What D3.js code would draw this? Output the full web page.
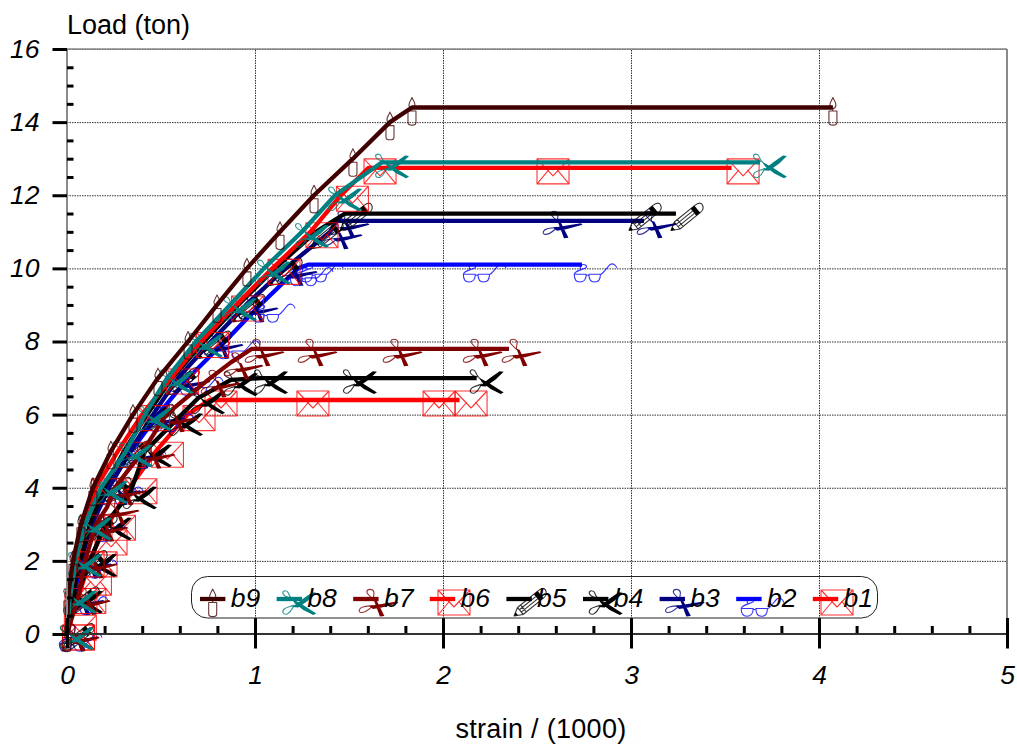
<!DOCTYPE html>
<html>
<head>
<meta charset="utf-8">
<script src="https://cdn.jsdelivr.net/npm/d3@7/dist/d3.min.js"></script>
<style>
  html, body { margin: 0; padding: 0; background: #fff; }
  svg { display: block; font-family: "Liberation Sans", Arial, sans-serif; }
  .tick-label { font-style: italic; font-size: 26.5px; fill: #000; }
  .axis-title { font-size: 27px; fill: #000; }
  .glyph { fill: none; stroke-width: 1.1; stroke-opacity: 0.8; stroke-linejoin: round; }
</style>
</head>
<body>
<div id="chart"></div>
<script>
'use strict';

// values: strain / 1000 and load in ton
var b1Strain = [0, 0.01, 0.06, 0.09, 0.12, 0.173, 0.218, 0.332, 0.473, 0.641, 0.758, 1.247, 1.918, 2.088];
var b1Load = [0, 0.27, 1, 1.5, 2, 2.6, 3, 4, 5, 6, 6.4, 6.4, 6.4, 6.4];
var b2Strain = [0, 0.032, 0.08, 0.122, 0.218, 0.34, 0.484, 0.644, 0.84, 1.027, 1.229, 1.282, 2.149, 2.739];
var b2Load = [0, 1, 2, 3, 4, 5, 6, 7, 8, 9, 10, 10.1, 10.1, 10.1];
var b3Strain = [0, 0.027, 0.069, 0.133, 0.223, 0.335, 0.457, 0.59, 0.766, 0.952, 1.16, 1.399, 1.436, 2.569, 3.069];
var b3Load = [0, 1, 2, 3, 4, 5, 6, 7, 8, 9, 10, 11, 11.3, 11.3, 11.3];
var b4Strain = [0, 0.048, 0.122, 0.202, 0.335, 0.415, 0.58, 0.697, 0.872, 1.032, 1.505, 2.179];
var b4Load = [0, 1, 2, 3, 3.85, 5, 5.85, 6.45, 6.95, 7, 7, 7];
var b5Strain = [0, 0.027, 0.069, 0.122, 0.197, 0.303, 0.426, 0.559, 0.729, 0.91, 1.106, 1.324, 1.479, 3.016, 3.239];
var b5Load = [0, 1, 2, 3, 4, 5, 6, 7, 8, 9, 10, 11, 11.5, 11.5, 11.5];
var b6Strain = [0, 0.013, 0.051, 0.093, 0.154, 0.271, 0.399, 0.553, 0.713, 0.899, 1.093, 1.295, 1.457, 1.604, 2.524, 3.535];
var b6Load = [0, 1, 2, 3, 4, 5, 6, 7, 8, 9, 10, 11, 12, 12.75, 12.75, 12.75];
var b7Strain = [0, 0.059, 0.096, 0.154, 0.213, 0.254, 0.404, 0.527, 0.75, 0.872, 0.984, 1.266, 1.718, 2.144, 2.351];
var b7Load = [0, 1, 2, 3, 3.47, 4, 5, 6, 6.95, 7.43, 7.8, 7.8, 7.8, 7.8, 7.8];
var b8Strain = [0, 0.016, 0.043, 0.096, 0.181, 0.314, 0.415, 0.532, 0.686, 0.867, 1.048, 1.25, 1.426, 1.676, 3.686];
var b8Load = [0, 1, 2, 3, 4, 5, 6, 7, 8, 9, 10, 11, 12, 12.9, 12.9];
var b9Strain = [0, 0.005, 0.032, 0.074, 0.138, 0.234, 0.351, 0.484, 0.644, 0.798, 0.957, 1.133, 1.314, 1.521, 1.718, 1.835, 4.074];
var b9Load = [0, 1, 2, 3, 4, 5, 6, 7, 8, 9, 10, 11, 12, 13, 14, 14.4, 14.4];

var seriesNames = ["b1", "b2", "b3", "b4", "b5", "b6", "b7", "b8", "b9"];
var legendOrder = ["b9", "b8", "b7", "b6", "b5", "b4", "b3", "b2", "b1"];
var xTicks = [0, 1, 2, 3, 4, 5];
var yTicks = [0, 2, 4, 6, 8, 10, 12, 14, 16];

var strains = {b1: b1Strain, b2: b2Strain, b3: b3Strain, b4: b4Strain, b5: b5Strain, b6: b6Strain, b7: b7Strain, b8: b8Strain, b9: b9Strain};
var loads = {b1: b1Load, b2: b2Load, b3: b3Load, b4: b4Load, b5: b5Load, b6: b6Load, b7: b7Load, b8: b8Load, b9: b9Load};
var colors = {b1: "#ff0000", b2: "#0000ff", b3: "#000080", b4: "#000000", b5: "#000000", b6: "#ff0000", b7: "#800000", b8: "#008080", b9: "#400000"};
var glyphs = {b1: envelope, b2: glasses, b3: scissorsB, b4: scissorsA, b5: pencil, b6: envelope, b7: scissorsB, b8: scissorsA, b9: candle};

var width = 1017, height = 744;

var svg = d3.select("#chart").append("svg")
  .attr("width", width)
  .attr("height", height);

var x = d3.scaleLinear().domain([0, 5]).range([67, 1007]);
var y = d3.scaleLinear().domain([0, 16]).range([634, 49]);

// marker drawings, origin is the data point
function outline(g, color, d) {
  g.append("path").attr("class", "glyph").attr("stroke", color).attr("d", d);
}

function solid(g, color, d) {
  g.append("path").attr("fill", color).attr("d", d);
}

function envelope(g, color) {
  outline(g, color, "M-4.5,-9H27.5V16H-4.5Z M-4.5,-9L11.5,8L27.5,-9 M-4.5,16L7.2,2 M27.5,16L15.8,2");
}

function scissorsA(g, color) {
  outline(g, color, "M1,-1C-3,-2 -6,-4 -6.5,-6C-6.5,-9 -2,-9 -1,-6C0,-3 2,0 6,3 M5,6C3,9 2,13 -2,15C-6,16 -8,13 -5,10C-3,8 1,8 5,6");
  solid(g, color, "M3,8L14,-0.5L23,-6.8L27,-6.3L19,1.5L9,8.5Z M3,0L13,5.5L27,14.5L24,16L14,11L5,4Z");
}

function scissorsB(g, color) {
  outline(g, color, "M8,1C5,-2 1,-5 1,-7C1,-10.5 7,-10.5 8,-7C8.5,-5 7,-2 7.5,1 M7,7C3,10 0,14 -5,13.5C-8,13 -7,9 -3,8C0,7 4,7 7,6.5");
  solid(g, color, "M3,7L31,2.5L32.5,4L16,8.5L7,10Z M7.5,0L10.5,1L18.5,17L14,17.5Z");
}

function pencil(g, color) {
  var p = g.append("g").attr("transform", "translate(-5,17) rotate(-39)");
  outline(p, color, "M0,0L8,-4.5V4.5Z M8,-4.5H34C40,-4.5 42,-2 40,1.5C39,4 37,4.5 34,4.5H8 M8,-1.5H29 M8,1.5H29 M12,-4.5V4.5");
  solid(p, color, "M0,0L3.5,-2V2Z M29,-4.5H34V4.5H29Z");
}

function candle(g, color) {
  outline(g, color, "M0,-10C1,-7 3.5,-5 3,-2C2.5,0 1,1 0,1C-1,1 -2.5,0 -3,-2C-3.5,-5 -1,-7 0,-10Z M-4,3.5H4V15C4,18.5 -4,18.5 -4,15Z M0,1V3.5");
}

function glasses(g, color) {
  outline(g, color, "M-7.7,9.5H4.3C4.3,14 2,17.3 -2,17.3C-6,17.3 -7.7,14 -7.7,9.5Z M7,9.5H18.5C18.5,14 16.5,17.3 12.5,17.3C9,17.3 7,14 7,9.5Z M4.3,10.5L7,10.5 M-7.7,9.5C-7,6 0,5 4,3C6,1.5 3,-1 0,0C-2,1 -2,3 -1,5 M18.5,10C22,8 25,3 28,0C31,-2 34,0 35,3.5");
}

// grid
svg.append("g")
  .attr("transform", "translate(" + x(0) + ",0)")
  .call(d3.axisRight(y).tickValues(yTicks).tickSize(x(5) - x(0)).tickFormat(""))
  .call(function(g) { g.select(".domain").remove(); })
  .selectAll("line")
  .attr("stroke", "#333")
  .attr("stroke-dasharray", "1.5,1");

svg.append("g")
  .attr("transform", "translate(0," + y(0) + ")")
  .call(d3.axisTop(x).tickValues(xTicks).tickSize(y(0) - y(16)).tickFormat(""))
  .call(function(g) { g.select(".domain").remove(); })
  .selectAll("line")
  .attr("stroke", "#333")
  .attr("stroke-dasharray", "1.5,1");

// curves and markers, b1 first so b9 ends up on top
var line = d3.line()
  .x(function(d) { return x(d[0]); })
  .y(function(d) { return y(d[1]); });

seriesNames.forEach(function(name) {
  var points = d3.zip(strains[name], loads[name]);
  var group = svg.append("g").attr("class", "series-" + name);

  group.append("path")
    .datum(points)
    .attr("fill", "none")
    .attr("stroke", colors[name])
    .attr("stroke-width", 4.3)
    .attr("stroke-linejoin", "round")
    .attr("d", line);

  group.selectAll(".marker")
    .data(points)
    .enter().append("g")
    .attr("class", "marker")
    .attr("transform", function(d) { return "translate(" + x(d[0]) + "," + y(d[1]) + ")"; })
    .each(function() { glyphs[name](d3.select(this), colors[name]); });
});

// frame
svg.append("line").attr("x1", x(0)).attr("x2", x(0)).attr("y1", y(16)).attr("y2", y(0))
  .attr("stroke", "#8a8a8a").attr("stroke-width", 2);
svg.append("line").attr("x1", x(5)).attr("x2", x(5)).attr("y1", y(16)).attr("y2", y(0))
  .attr("stroke", "#8a8a8a").attr("stroke-width", 2);
svg.append("line").attr("x1", x(0)).attr("x2", x(5)).attr("y1", y(16)).attr("y2", y(16))
  .attr("stroke", "#8a8a8a").attr("stroke-width", 1.5);

// y axis, long ticks outside, short ones inside
var yMajor = svg.append("g")
  .attr("transform", "translate(" + x(0) + ",0)")
  .call(d3.axisLeft(y).tickValues(yTicks).tickSize(14.5).tickPadding(13).tickSizeOuter(0));
yMajor.select(".domain").remove();
yMajor.selectAll("line").attr("stroke", "#000").attr("stroke-width", 3);
yMajor.selectAll("text").attr("class", "tick-label").attr("font-size", null).attr("font-family", null);

var yMinor = svg.append("g")
  .attr("transform", "translate(" + x(0) + ",0)")
  .call(d3.axisRight(y).tickValues(d3.range(0, 16.01, 0.5).filter(function(v) { return v % 2 !== 0; })).tickSize(6.5).tickFormat(""));
yMinor.select(".domain").remove();
yMinor.selectAll("line").attr("stroke", "#000").attr("stroke-width", 3);

// x axis
var xMinor = svg.append("g")
  .attr("transform", "translate(0," + y(0) + ")")
  .call(d3.axisTop(x).tickValues(d3.range(0.2, 5, 0.2)).tickSize(8).tickFormat(""));
xMinor.select(".domain").remove();
xMinor.selectAll("line").attr("stroke", "#000").attr("stroke-width", 3);

svg.append("line").attr("x1", x(0)).attr("x2", x(5)).attr("y1", y(0)).attr("y2", y(0))
  .attr("stroke", "#333").attr("stroke-width", 2);

var xMajor = svg.append("g")
  .attr("transform", "translate(0," + y(0) + ")")
  .call(d3.axisBottom(x).tickValues(xTicks).tickFormat(d3.format("d")).tickSize(14.5).tickPadding(17));
xMajor.select(".domain").remove();
xMajor.selectAll("line").attr("stroke", "#000").attr("stroke-width", 3).attr("y1", -16);
xMajor.selectAll("text").attr("class", "tick-label").attr("font-size", null).attr("font-family", null);

// axis titles
svg.append("text").attr("class", "axis-title")
  .attr("x", 67).attr("y", 34)
  .text("Load (ton)");
svg.append("text").attr("class", "axis-title")
  .attr("x", 541).attr("y", 738)
  .attr("text-anchor", "middle")
  .style("letter-spacing", "0.3px")
  .text("strain / (1000)");

// legend
svg.append("rect")
  .attr("x", 191.5).attr("y", 576.5)
  .attr("width", 686).attr("height", 41.5)
  .attr("rx", 16).attr("ry", 16)
  .attr("fill", "none")
  .attr("stroke", "#222")
  .attr("stroke-width", 1);

var legendX = d3.scalePoint().domain(legendOrder).range([212.7, 825.5]);
var legendY = 599;

legendOrder.forEach(function(name) {
  var cx = legendX(name);
  var entry = svg.append("g").attr("class", "legend-" + name);
  entry.append("line")
    .attr("x1", cx - 12.7).attr("x2", cx + 12.7)
    .attr("y1", legendY).attr("y2", legendY)
    .attr("stroke", colors[name]).attr("stroke-width", 4.3);
  var mark = entry.append("g").attr("transform", "translate(" + cx + "," + legendY + ")");
  glyphs[name](mark, colors[name]);
  entry.append("text").attr("class", "tick-label")
    .attr("x", cx + 18).attr("y", 607)
    .text(name);
});
</script>
</body>
</html>
